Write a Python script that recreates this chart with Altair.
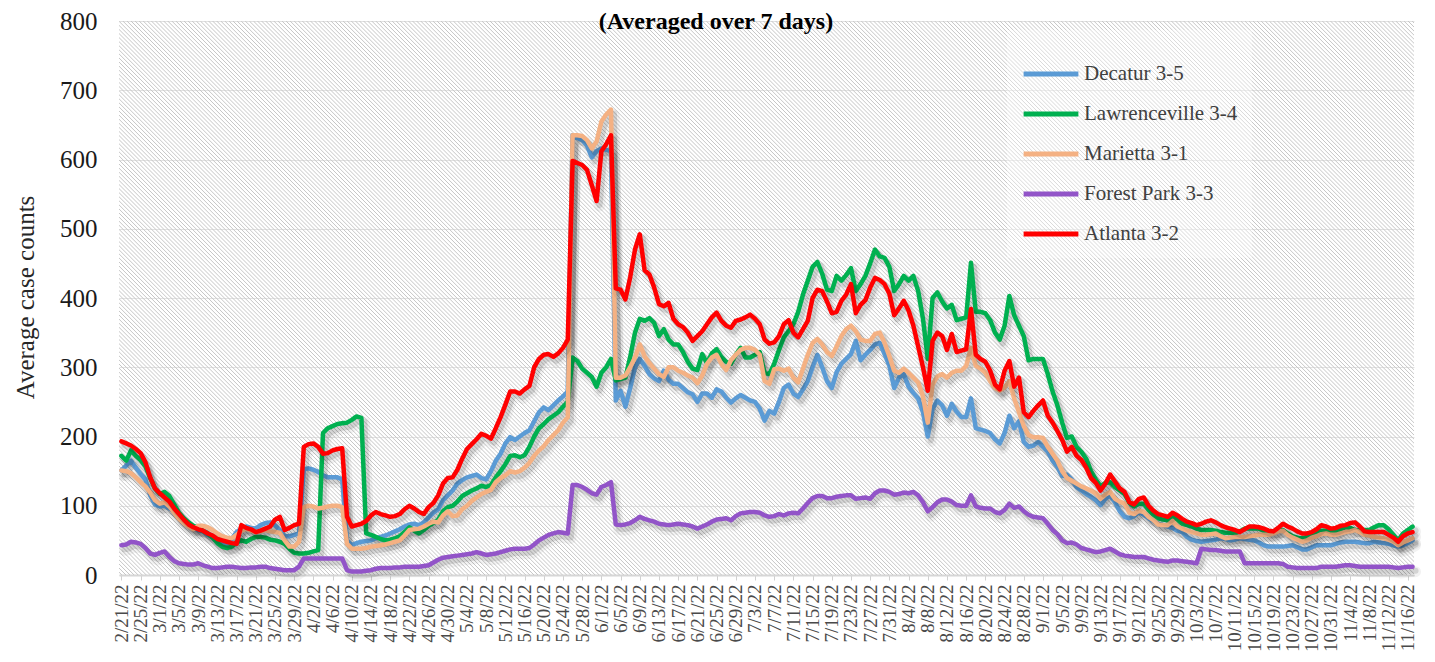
import altair as alt
import pandas as pd

TITLE = "(Averaged over 7 days)"
Y_TITLE = "Average case counts"
SERIES = ["Decatur 3-5", "Lawrenceville 3-4", "Marietta 3-1", "Forest Park 3-3", "Atlanta 3-2"]
COLORS = ["#5B9BD5", "#00B050", "#F4B183", "#9254C8", "#FF0000"]
START_DATE = "2022-02-21"
Y_TICKS = [0, 100, 200, 300, 400, 500, 600, 700, 800]
TICK_LABELS = [
    "2/21/22", "2/25/22", "3/1/22", "3/5/22", "3/9/22", "3/13/22", "3/17/22", "3/21/22",
    "3/25/22", "3/29/22", "4/2/22", "4/6/22", "4/10/22", "4/14/22", "4/18/22", "4/22/22",
    "4/26/22", "4/30/22", "5/4/22", "5/8/22", "5/12/22", "5/16/22", "5/20/22", "5/24/22",
    "5/28/22", "6/1/22", "6/5/22", "6/9/22", "6/13/22", "6/17/22", "6/21/22", "6/25/22",
    "6/29/22", "7/3/22", "7/7/22", "7/11/22", "7/15/22", "7/19/22", "7/23/22", "7/27/22",
    "7/31/22", "8/4/22", "8/8/22", "8/12/22", "8/16/22", "8/20/22", "8/24/22", "8/28/22",
    "9/1/22", "9/5/22", "9/9/22", "9/13/22", "9/17/22", "9/21/22", "9/25/22", "9/29/22",
    "10/3/22", "10/7/22", "10/11/22", "10/15/22", "10/19/22", "10/23/22", "10/27/22", "10/31/22",
    "11/4/22", "11/8/22", "11/12/22", "11/16/22",
]

DECATUR = [
    151, 158, 165, 155, 146, 138, 115, 102, 99, 100,
    96, 92, 84, 78, 72, 68, 65, 63, 58, 54,
    49, 46, 45, 52, 62, 67, 70, 68, 67, 72,
    75, 76, 72, 65, 56, 56, 58, 60, 153, 154,
    152, 149, 144, 141, 141, 141, 138, 50, 43, 46,
    48, 49, 50, 53, 55, 57, 60, 63, 66, 70,
    73, 74, 72, 76, 83, 90, 95, 108, 115, 122,
    132, 137, 141, 143, 145, 140, 138, 150, 165, 175,
    190, 199, 195, 200, 205, 209, 222, 235, 242, 238,
    245, 252, 258, 265, 635, 631, 628, 620, 603, 612,
    616, 614, 612, 252, 266, 243, 270, 300, 312, 302,
    290, 284, 280, 295, 282, 276, 276, 270, 264, 261,
    250, 262, 262, 256, 268, 265, 256, 249, 255, 260,
    256, 252, 250, 240, 223, 237, 233, 250, 270, 275,
    262, 257, 268, 280, 300, 318, 300, 280, 270, 293,
    305, 312, 319, 338, 310, 318, 325, 333, 335, 319,
    302, 270, 285, 290, 272, 263, 255, 235, 200, 240,
    252, 245, 230, 247, 236, 228, 228, 255, 212, 210,
    208, 205, 196, 190, 205, 230, 212, 222, 192, 185,
    187, 192, 185, 178, 165, 156, 143, 145, 138, 127,
    122, 117, 113, 108, 101, 110, 115, 105, 92, 84,
    82, 85, 91, 87, 82, 78, 74, 72, 70, 68,
    64, 62, 55, 51, 49, 48, 49, 50, 51, 53,
    52, 50, 51, 53, 52, 51, 50, 47, 43, 41,
    41, 41, 41, 42, 43, 40, 37, 37, 40, 43,
    43, 43, 43, 45, 47, 48, 48, 48, 47, 46,
    46, 48, 47, 46, 45, 43, 41, 43, 46, 50,
]

LAWRENCEVILLE = [
    172, 165, 180, 172, 166, 157, 140, 125, 117, 120,
    114, 102, 90, 82, 76, 71, 68, 64, 60, 54,
    46, 41, 39, 41, 47, 50, 48, 52, 55, 55,
    54, 51, 50, 48, 45, 38, 32, 31, 31, 32,
    34, 36, 205, 212, 215, 218, 219, 220, 224, 229,
    227, 60, 58, 55, 52, 50, 51, 53, 56, 62,
    69, 64, 60, 65, 71, 75, 80, 92, 98, 100,
    106, 114, 118, 122, 125, 129, 127, 130, 141, 150,
    160, 172, 173, 170, 173, 185, 200, 212, 218, 225,
    230, 235, 243, 250, 314, 309, 298, 292, 286, 272,
    292, 300, 312, 281, 283, 285, 315, 350, 370, 367,
    371, 364, 345, 355, 340, 333, 333, 322, 308, 298,
    296, 319, 306, 320, 326, 315, 308, 305, 318, 328,
    314, 314, 318, 322, 292, 290, 305, 325, 343, 352,
    362, 380, 405, 425, 445, 452, 435, 412, 410, 432,
    425, 433, 443, 410, 420, 432, 450, 470, 460, 458,
    445, 410, 420, 432, 425, 432, 410, 370, 312, 400,
    408, 395, 385, 390, 368, 370, 372, 451, 380, 380,
    378, 368, 350, 340, 360, 403, 375, 360, 345, 310,
    312, 312, 312, 290, 265, 245, 220, 198, 200, 185,
    178, 168, 150, 138, 128, 133, 134, 127, 122, 117,
    104, 99, 103, 103, 94, 87, 82, 80, 79, 85,
    80, 74, 72, 70, 67, 65, 65, 65, 64, 62,
    61, 61, 60, 63, 67, 67, 67, 67, 64, 62,
    63, 64, 65, 60, 56, 54, 53, 55, 58, 61,
    64, 64, 63, 62, 66, 69, 68, 65, 65, 65,
    65, 69, 72, 72, 66, 58, 50, 60, 65, 70,
]

MARIETTA = [
    151, 150, 147, 141, 134, 128, 119, 108, 103, 105,
    99, 90, 81, 75, 70, 66, 71, 71, 69, 65,
    60, 56, 54, 53, 58, 64, 67, 64, 62, 63,
    65, 63, 62, 61, 50, 41, 41, 48, 98, 100,
    99, 96, 97, 99, 100, 100, 98, 45, 38, 38,
    38, 39, 41, 42, 43, 44, 46, 48, 50, 57,
    65, 66, 67, 70, 74, 77, 76, 86, 92, 85,
    86, 95, 100, 107, 112, 117, 120, 123, 134, 140,
    144, 150, 148, 150, 155, 162, 172, 180, 186, 195,
    202, 209, 220, 228, 635, 635, 634, 628, 616, 626,
    655, 665, 672, 285, 285, 288, 300, 314, 333, 316,
    306, 298, 290, 286, 300, 300, 295, 292, 288, 285,
    277, 288, 305, 314, 318, 305, 296, 310, 318, 325,
    328, 328, 325, 318, 280, 276, 297, 298, 295, 298,
    285, 278, 298, 318, 335, 341, 333, 322, 316, 330,
    345, 355, 360, 352, 340, 338, 338, 348, 350, 335,
    316, 295, 292, 298, 292, 285, 278, 258, 220, 275,
    287, 290, 285, 292, 295, 295, 302, 328, 302, 298,
    292, 280, 270, 266, 271, 280, 255, 235, 215, 202,
    199, 199, 198, 185, 175, 165, 150, 140, 136, 132,
    128, 125, 122, 118, 110, 116, 120, 110, 106, 103,
    90, 88, 93, 91, 84, 79, 73, 72, 72, 78,
    70, 67, 64, 62, 60, 58, 58, 59, 60, 56,
    53, 54, 55, 55, 55, 56, 57, 58, 58, 58,
    60, 63, 64, 58, 54, 51, 48, 50, 54, 56,
    59, 60, 58, 58, 60, 62, 63, 65, 62, 58,
    57, 55, 54, 53, 51, 48, 43, 47, 50, 53,
]

FOREST_PARK = [
    43, 44, 48, 47, 45, 39, 31, 29, 32, 34,
    26, 20, 17, 16, 15, 15, 17, 14, 12, 10,
    10, 11, 12, 12, 11, 10, 10, 11, 11, 12,
    12, 10, 9, 8, 7, 7, 7, 12, 24, 24,
    24, 24, 24, 24, 24, 24, 24, 7, 5, 5,
    5, 6, 7, 9, 10, 10, 10, 11, 11, 12,
    12, 12, 12, 13, 14, 18, 22, 25, 26, 27,
    28, 29, 30, 31, 33, 31, 29, 30, 31, 33,
    35, 37, 38, 38, 38, 39, 44, 50, 54, 58,
    60, 62, 61, 60, 130, 130, 127, 123, 118, 116,
    127, 130, 134, 73, 72, 73, 75, 79, 84, 81,
    79, 77, 74, 73, 72, 73, 74, 73, 72, 70,
    67, 70, 73, 77, 80, 81, 82, 79, 85, 89,
    90, 91, 91, 90, 86, 84, 85, 88, 86, 89,
    90, 89, 96, 104, 111, 114, 114, 111, 111, 113,
    114, 115, 115, 110, 111, 112, 110, 118, 122, 122,
    120, 116, 117, 119, 118, 120, 115, 105, 92, 98,
    105, 109, 109, 106, 101, 100, 100, 115, 99, 97,
    96, 96, 91, 89, 94, 103, 97, 99, 92, 87,
    84, 83, 82, 74, 65, 59, 50, 46, 47, 44,
    39, 37, 35, 33, 34, 36, 38, 34, 30, 28,
    27, 26, 26, 26, 24, 22, 21, 20, 19, 21,
    21, 20, 19, 18, 17, 38, 37, 36, 36, 35,
    34, 34, 34, 34, 17, 17, 17, 17, 17, 17,
    17, 17, 16, 12, 11, 10, 10, 10, 10, 10,
    12, 12, 12, 12, 13, 14, 14, 13, 12, 12,
    12, 12, 12, 12, 12, 11, 10, 11, 12, 12,
]

ATLANTA = [
    193, 190, 187, 182, 176, 163, 141, 125, 118, 112,
    106, 96, 88, 80, 73, 69, 66, 64, 60, 57,
    52, 50, 48, 46, 45, 72, 68, 66, 62, 64,
    67, 70, 80, 84, 65, 68, 72, 74, 185, 189,
    190, 185, 175, 176, 180, 182, 183, 84, 70, 72,
    74, 78, 86, 91, 88, 86, 84, 85, 88, 95,
    100, 96, 91, 88, 98, 104, 115, 132, 140, 141,
    152, 168, 182, 189, 196, 204, 201, 197, 212, 228,
    246, 265, 265, 262, 268, 273, 300, 312, 318, 319,
    315, 320, 328, 340, 598, 595, 592, 585, 563, 540,
    612, 622, 635, 414, 412, 398, 430, 470, 492, 440,
    434, 415, 391, 388, 393, 370, 362, 358, 350, 338,
    345, 352, 362, 372, 379, 367, 360, 357, 367, 369,
    372, 376, 370, 362, 340, 334, 336, 345, 362, 368,
    350, 343, 355, 367, 400, 412, 410, 395, 378, 380,
    396, 405, 420, 378, 390, 397, 415, 429, 426, 420,
    406, 375, 385, 396, 382, 360, 330, 300, 266, 338,
    350, 345, 325, 348, 322, 324, 326, 384, 318, 312,
    308, 295, 275, 268, 295, 309, 272, 285, 235, 228,
    237, 245, 252, 230, 220, 208, 195, 178, 185, 172,
    166, 155, 140, 133, 122, 132, 145, 135, 125, 120,
    105, 102, 110, 112, 100, 93, 88, 86, 84, 90,
    86, 81, 77, 75, 72, 74, 77, 79, 76, 72,
    69, 67, 65, 62, 66, 70, 70, 69, 67, 64,
    63, 68, 74, 70, 67, 63, 60, 60, 62, 66,
    72, 70, 67, 68, 71, 72, 75, 76, 70, 63,
    62, 62, 62, 62, 58, 54, 48, 56, 60, 62,
]

VALUES = [DECATUR, LAWRENCEVILLE, MARIETTA, FOREST_PARK, ATLANTA]
N_DAYS = len(DECATUR)
for v in VALUES:
    assert len(v) == N_DAYS, len(v)

dates = pd.date_range(START_DATE, periods=N_DAYS, freq="D")
rows = []
for name, vals in zip(SERIES, VALUES):
    for i, (d, v) in enumerate(zip(dates, vals)):
        rows.append({"day": i, "date": d.strftime("%-m/%-d/%y"), "series": name, "value": v})
df = pd.DataFrame(rows)

FONT = "Liberation Serif"
W, H = 1295, 554
PAD = {"left": 111, "top": 13, "right": 13, "bottom": 79}
X_DOMAIN = [-0.5, 269.3]

label_array = "[" + ",".join("'" + t + "'" for t in TICK_LABELS) + "]"
x_axis = alt.Axis(
    values=list(range(0, 4 * len(TICK_LABELS), 4)),
    labelExpr=label_array + "[round(datum.value / 4)]",
    labelAngle=270, labelFont=FONT, labelFontSize=19, labelColor="#4a4a4a",
    labelPadding=4, labelOverlap=False, labelBound=False,
    ticks=True, tickSize=5, tickColor="#d0d0d0",
    domain=True, domainColor="#d6d6d6", domainWidth=2,
    grid=False, title=None,
)
y_axis = alt.Axis(
    values=Y_TICKS, labelFont=FONT, labelFontSize=25, labelColor="#1a1a1a",
    labelPadding=22, ticks=False, domain=False,
    grid=True, gridColor="#e2e2e2", gridWidth=1,
    title=Y_TITLE, titleFont=FONT, titleFontSize=25, titleFontWeight="normal",
    titleColor="#262626", titleX=-94, titleY=276, titleAngle=270,
    titleAlign="center", titleBaseline="middle",
)
x_scale = alt.Scale(domain=X_DOMAIN, nice=False, zero=False)
y_scale = alt.Scale(domain=[0, 800], nice=False)


def X(f):
    return alt.X(f, scale=x_scale, axis=x_axis)


def Y(f):
    return alt.Y(f, scale=y_scale, axis=y_axis)


# diagonal hatch in the plot background (45 degrees in pixels)
hatch = (
    alt.Chart(alt.sequence(start=-117, stop=270, step=0.85, as_="h"))
    .transform_calculate(day="datum.h", day2="datum.h + 115.4", value="800", value2="0")
    .mark_rule(clip=True, color="#c6c6c6", strokeWidth=1)
    .encode(x=X("day:Q"), x2="day2:Q", y=Y("value:Q"), y2="value2:Q")
)

legend = alt.Legend(
    title=None, orient="none", legendX=888, legendY=9, direction="vertical",
    symbolType="stroke", symbolSize=3000, symbolStrokeWidth=5,
    labelFont=FONT, labelFontSize=21, labelColor="#404040", labelOffset=3,
    rowPadding=0, padding=14, fillColor="rgba(255,255,255,0.35)", labelLimit=400,
)
color = alt.Color("series:N", scale=alt.Scale(domain=SERIES, range=COLORS), legend=legend)

layers = [hatch]
base = alt.Chart(df)
for name in SERIES:
    sub = base.transform_filter(alt.datum.series == name)
    layers.append(
        sub.mark_line(color="black", opacity=0.05, strokeWidth=11, xOffset=3, yOffset=5,
                      strokeJoin="round", strokeCap="round")
        .encode(x=X("day:Q"), y=Y("value:Q"))
    )
    layers.append(
        sub.mark_line(color="black", opacity=0.12, strokeWidth=6, xOffset=3, yOffset=4,
                      strokeJoin="round", strokeCap="round")
        .encode(x=X("day:Q"), y=Y("value:Q"))
    )
    layers.append(
        sub.mark_line(strokeWidth=4.5, strokeJoin="round", strokeCap="round")
        .encode(x=X("day:Q"), y=Y("value:Q"), color=color)
    )

title = (
    alt.Chart(pd.DataFrame({"t": [TITLE]}))
    .mark_text(font=FONT, fontSize=24, fontWeight="bold", color="black",
               align="center", baseline="alphabetic")
    .encode(text="t:N", x=alt.value(597), y=alt.value(8))
)
layers.append(title)

chart = (
    alt.layer(*layers)
    .properties(width=W, height=H, padding=PAD,
                autosize=alt.AutoSizeParams(type="none"))
    .configure_view(strokeWidth=0)
)

chart.save("out.html", embed_options={"renderer": "svg", "actions": False})
